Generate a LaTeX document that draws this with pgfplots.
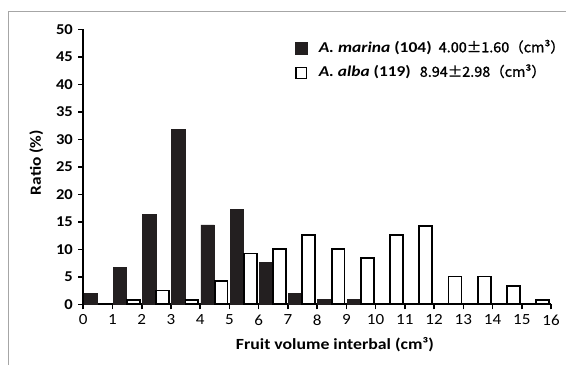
\documentclass[border=0pt]{standalone}
\usepackage{fontspec}
\setmainfont{Carlito}[FakeStretch=1.1]
\newfontfamily\jp{Noto Sans CJK JP}[FakeBold=1.3]
\usepackage{graphicx}
\usepackage{pgfplots}
\pgfplotsset{compat=1.18}
\definecolor{barblack}{HTML}{231F20}
\begin{document}
\begin{tikzpicture}[x=1pt,y=1pt]
\useasboundingbox (0,0) rectangle (566,365);
\draw[gray!70, line width=0.9pt] (8,0) -- (8,354) -- (566,354);
\begin{axis}[
  at={(83.3pt,60.7pt)}, anchor=south west,
  width=467.7pt, height=275pt, scale only axis,
  xmin=0, xmax=16, ymin=0, ymax=50,
  enlargelimits=false,
  axis lines=left,
  axis line style={-, line width=2pt, black},
  xtick={0,1,...,16}, ytick={0,5,...,50},
  tick align=outside,
  major tick length=5pt,
  tick style={line width=1.6pt, black},
  /pgf/number format/assume math mode=true,
  xticklabel style={font=\fontsize{15.5}{17}\selectfont, yshift=-2pt},
  yticklabel style={font=\bfseries\fontsize{15}{17}\selectfont, xshift=-2pt},
  xlabel={\resizebox{198pt}{\height}{\bfseries Fruit volume interbal (cm³)}},
  ylabel={\resizebox{65pt}{\height}{\bfseries Ratio (\%)}},
  xlabel style={font=\fontsize{15.5}{17}\selectfont, at={(axis description cs:0.538,-0.148)}, anchor=center},
  ylabel style={font=\fontsize{15.5}{17}\selectfont, at={(axis description cs:-0.1005,0.5156)}, anchor=center},
  legend style={at={(axis description cs:0.4526,0.9600)}, anchor=north west,
    draw=none, fill=none, inner sep=0pt, outer sep=0pt, row sep=8.5pt, column sep=11pt,
    nodes={inner sep=0pt, font=\fontsize{15}{17}\selectfont, text height=12pt, text depth=4pt}},
  legend cell align=left,
  clip=false,
]
\addplot[ybar, bar width=0.46, bar shift=0, fill=barblack, draw=barblack, line width=0.8pt,
  legend image code/.code={\draw[fill=barblack, draw=barblack, line width=0.8pt] (0pt,-6pt) rectangle (12pt,6pt);}]
  coordinates {(0.255,1.92) (1.255,6.73) (2.255,16.35) (3.255,31.73) (4.255,14.42) (5.255,17.31) (6.255,7.69) (7.255,1.92) (8.255,0.96) (9.255,0.96)};
\addlegendentry{\resizebox{113pt}{\height}{\bfseries{\itshape A. marina} (104)}\hspace{7pt}\resizebox{126pt}{\height}{\jp\fontsize{14}{16}\selectfont 4.00±1.60（cm³）}}
\addplot[ybar, bar width=0.44, bar shift=0, fill=white, draw=black, line width=1.8pt,
  legend image code/.code={\draw[fill=white, draw=black, line width=1.3pt] (0.6pt,-5.4pt) rectangle (11.4pt,5.4pt);}]
  coordinates {(1.715,0.84) (2.715,2.52) (3.715,0.84) (4.715,4.20) (5.715,9.24) (6.715,10.08) (7.715,12.61) (8.715,10.08) (9.715,8.40) (10.715,12.61) (11.715,14.29) (12.715,5.04) (13.715,5.04) (14.715,3.36) (15.715,0.84)};
\addlegendentry{\resizebox{92pt}{\height}{\bfseries{\itshape A. alba} (119)}\hspace{9pt}\resizebox{126pt}{\height}{\jp\fontsize{14}{16}\selectfont 8.94±2.98（cm³）}}
\end{axis}
\end{tikzpicture}
\end{document}
